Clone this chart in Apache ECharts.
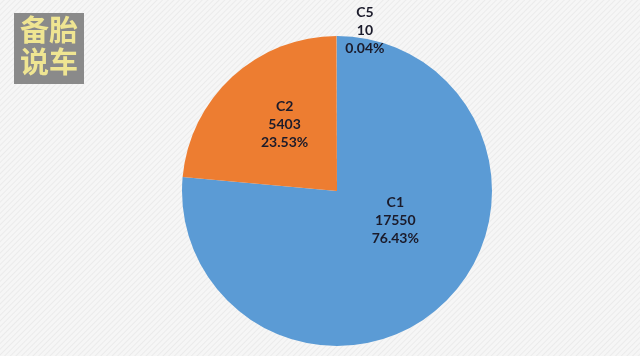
<!DOCTYPE html>
<html><head><meta charset="utf-8">
<script src="https://cdn.jsdelivr.net/npm/echarts@6/dist/echarts.min.js"></script>
<style>
html,body{margin:0;padding:0;width:640px;height:356px;overflow:hidden;}
body{background:#f3f3f3 repeating-linear-gradient(135deg,#f6f6f6 0px,#f6f6f6 2px,#ebebeb 3px,#f6f6f6 4px);}
#c{width:640px;height:356px;}
</style></head>
<body><div id="c"></div>
<script>
var categories = ['C1', 'C2', 'C5'];
var values = [17550, 5403, 10];
var percents = ['76.43%', '23.53%', '0.04%'];
var colors = ['#5b9bd5', '#ed7d31', '#a5a5a5'];
var labelOffsets = [[4, -30], [2, -7], [28, -80]];

var chart = echarts.init(document.getElementById('c'), null, {renderer: 'canvas'});
var data = categories.map(function (c, i) {
  return {
    name: c, value: values[i],
    itemStyle: {color: colors[i]},
    label: {offset: labelOffsets[i]}
  };
});
chart.setOption({
  backgroundColor: 'transparent',
  animation: false,
  graphic: [
    {type: 'rect', shape: {x: 14, y: 13, width: 70, height: 71}, style: {fill: '#8a8a8a'}},
    {type: 'text', left: 20, top: 15, style: {text: '备胎', fill: '#efe592', font: 'bold 29px "Noto Sans CJK SC"'}},
    {type: 'text', left: 20, top: 47, style: {text: '说车', fill: '#efe592', font: 'bold 29px "Noto Sans CJK SC"'}}
  ],
  series: [{
    type: 'pie',
    center: [337, 191],
    radius: [0, 155],
    startAngle: 90,
    clockwise: true,
    avoidLabelOverlap: false,
    data: data,
    label: {
      show: true,
      position: 'inside',
      color: '#1b1b2b',
      fontFamily: 'Lato, sans-serif',
      fontWeight: 'bold',
      fontSize: 14,
      lineHeight: 18,
      align: 'center',
      formatter: function (p) { return p.name + '\n' + p.value + '\n' + percents[p.dataIndex]; }
    },
    labelLine: {show: false}
  }]
});
</script></body></html>
